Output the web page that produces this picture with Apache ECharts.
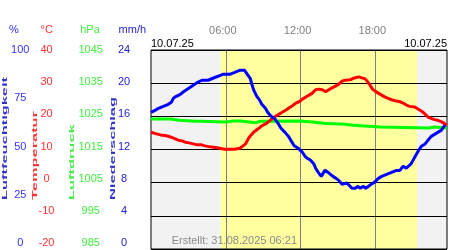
<!DOCTYPE html>
<html><head><meta charset="utf-8">
<script src="https://cdn.jsdelivr.net/npm/echarts@6/dist/echarts.min.js"></script>
<style>html,body{margin:0;padding:0;background:#fff}#c{width:450px;height:250px}</style>
</head><body><div id="c"></div>
<script>
// ---- data (hours of day 10.07.25) ----
const humHours = [0,0.36,0.60,0.99,1.39,1.63,1.79,2.03,2.35,2.58,2.82,3.06,3.30,3.54,3.78,4.09,4.57,4.97,5.37,5.76,6.32,6.72,7.11,7.51,7.73,7.96,8.09,8.25,8.49,8.73,8.89,9.18,9.36,9.63,9.90,10.24,10.43,10.75,11.03,11.22,11.49,11.75,11.88,12.15,12.36,12.54,12.81,13.08,13.21,13.42,13.66,13.95,14.21,14.59,14.85,15.06,15.33,15.72,15.86,16.12,16.39,16.60,16.79,17.05,17.23,17.45,17.66,17.93,18.24,18.51,18.90,19.30,19.70,19.97,20.23,20.49,20.84,21.03,21.29,21.48,21.69,21.96,22.22,22.48,22.75,23.01,23.28,23.59];
const humVals = [68.7,69.8,70.7,71.7,72.7,73.7,75.7,76.7,77.7,78.9,79.9,80.9,81.9,82.9,83.9,84.8,84.8,85.8,86.8,87.8,87.8,88.8,89.8,89.8,87.8,85.8,82.8,79.7,76.7,74.7,72.7,70.7,68.7,66.7,65.7,62.7,60.7,58.6,56.6,54.6,51.9,50.9,50.6,48.6,46.6,45.6,44.6,42.6,40.6,38.5,36.5,39.5,38.5,36.5,35.5,34.5,32.5,33.2,32.5,30.5,30.5,31.5,30.5,31.5,30.5,31.5,32.5,33.5,35.5,36.5,37.5,38.5,39.5,39.5,41.6,40.6,42.6,44.6,47.6,49.6,51.6,52.6,54.6,56.6,57.6,58.6,59.6,62.3];

const tempHours = [0,0.36,0.76,1.11,1.39,1.71,1.95,2.19,2.50,2.74,3.06,3.38,3.70,4.05,4.33,4.73,5.29,5.92,6.72,7.11,7.35,7.59,7.83,8.04,8.23,8.44,8.65,8.84,9.02,9.24,9.44,9.63,9.90,10.16,10.43,10.69,10.87,11.09,11.35,11.62,11.88,12.15,12.42,12.68,12.94,13.21,13.47,13.74,14.01,14.27,14.53,14.80,15.06,15.33,15.60,15.99,16.26,16.65,16.92,17.19,17.39,17.58,17.77,17.98,18.24,18.51,18.78,19.04,19.30,19.70,19.97,20.23,20.49,20.76,21.16,21.42,21.69,21.96,22.22,22.48,22.75,23.01,23.28,23.55,23.75];
const tempVals = [15.2,14.8,14.4,14.2,14.0,13.6,13.2,12.8,12.6,12.2,12.0,11.7,11.4,11.4,11.1,10.8,10.5,10.1,10.1,10.4,11.0,11.7,13.4,14.4,15.2,15.8,16.4,17.0,17.4,17.8,18.4,19.0,19.8,20.4,21.0,21.6,22.0,22.6,23.2,24.0,24.4,25.2,25.8,26.4,27.0,28.0,28.2,28.0,27.4,28.0,28.6,29.1,29.7,30.6,30.9,31.0,31.5,31.9,31.6,31.3,30.4,29.4,28.2,27.6,27.0,26.4,25.8,25.4,25.0,24.6,24.4,24.0,23.4,23.0,22.8,22.2,21.6,20.8,19.8,19.4,19.0,18.8,18.4,17.8,17.4];

const presHours = [0,1.55,2.27,3.54,3.70,3.93,6.00,6.64,6.72,7.19,8.39,8.78,11.96,13.16,13.79,15.54,16.26,17.13,18.40,22.30,22.69,23.75];
const presVals = [1024.2,1023.8,1023.5,1023.2,1023.5,1023.3,1023.6,1023.3,1023.6,1023.1,1023.5,1023.6,1023.2,1022.9,1022.6,1022.3,1022.1,1021.8,1021.5,1021.8,1021.5,1021.5];

const tickHours = [6, 12, 18];
const tickLabels = ['06:00', '12:00', '18:00'];
const dayStart = 5.58, dayEnd = 21.35, xEnd = 23.75;
const dateLabel = '10.07.25';
const createdLabel = 'Erstellt: 31.08.2025 06:21';

const FONT = '"Liberation Sans", Arial, sans-serif';
const zip = (a, b) => a.slice(0, Math.min(a.length, b.length)).map((v, i) => [v, b[i]]);

const chart = echarts.init(document.getElementById('c'), null, {renderer: 'canvas'});

function labelAxis(min, max, interval, offset, color, fmt) {
  return {
    gridIndex: 1, type: 'value', position: 'left', min, max, interval, offset,
    axisLine: {show: false}, axisTick: {show: false}, splitLine: {show: false},
    axisLabel: {color, fontSize: 11, fontFamily: FONT, margin: 0, align: 'center', formatter: fmt}
  };
}
function txt(text, x, y, color, align, size) {
  return {type: 'text', x, y, silent: true,
    style: {text, fill: color, font: (size || 11) + 'px ' + FONT, align: align || 'center', textAlign: align || 'center', verticalAlign: 'middle', textVerticalAlign: 'middle'}};
}
function vtxt(text, x, y, color) {
  return {type: 'text', x, y, rotation: Math.PI / 2, scaleX: 2.05, silent: true,
    style: {text, fill: color, font: 'bold 8px ' + FONT, align: 'left', textAlign: 'left', verticalAlign: 'middle', textVerticalAlign: 'middle'}};
}

chart.setOption({
  animation: false,
  backgroundColor: '#ffffff',
  grid: [
    {left: 151, top: 50, width: 298, height: 199, show: true, borderColor: '#000', borderWidth: 1, backgroundColor: 'transparent'},
    {left: 151, top: 50, width: 298, height: 193, show: false}
  ],
  xAxis: [
    {gridIndex: 0, type: 'value', min: 0, max: xEnd, interval: 6, position: 'top',
     axisLine: {show: false}, axisTick: {show: false}, splitLine: {show: false},
     axisLabel: {color: '#808080', fontSize: 11, fontFamily: FONT, margin: 14, padding: [0, 6, 0, 0],
       formatter: v => { const i = tickHours.indexOf(v); return i >= 0 ? tickLabels[i] : ''; }}},
    {gridIndex: 1, type: 'value', min: 0, max: 1, show: false}
  ],
  yAxis: [
    {gridIndex: 0, type: 'value', min: -20, max: 40, interval: 10,
     axisLine: {show: false}, axisTick: {show: false}, axisLabel: {show: false},
     splitLine: {show: true, lineStyle: {color: '#000', width: 1}}},
    {gridIndex: 0, type: 'value', min: 0, max: 100, show: false},
    {gridIndex: 0, type: 'value', min: 985, max: 1045, show: false},
    labelAxis(0, 100, 25, 130.7, '#3333ff'),
    labelAxis(-20, 40, 10, 104.5, '#ff3333'),
    labelAxis(0, 60, 10, 60.3, '#44ee44', v => String(v + 985)),
    labelAxis(0, 24, 4, 27, '#2222cc')
  ],
  series: [
    {type: 'line', xAxisIndex: 0, yAxisIndex: 0, data: [], z: -2, silent: true,
     markArea: {silent: true, z: -2, data: [
       [{xAxis: 0, itemStyle: {color: '#f2f2f2'}}, {xAxis: dayStart}],
       [{xAxis: dayStart, itemStyle: {color: '#ffffa0'}}, {xAxis: dayEnd}],
       [{xAxis: dayEnd, itemStyle: {color: '#f2f2f2'}}, {xAxis: xEnd}]
     ]},
     markLine: {silent: true, z: -1, symbol: 'none', label: {show: false},
       lineStyle: {color: '#808080', width: 1, type: 'solid'},
       data: tickHours.map(h => ({xAxis: h}))}},
    {name: 'Luftdruck', type: 'line', xAxisIndex: 0, yAxisIndex: 2, step: 'end', data: zip(presHours, presVals),
     showSymbol: false, lineStyle: {color: '#00ff00', width: 3}, itemStyle: {color: '#00ff00'}, z: 2},
    {name: 'Temperatur', type: 'line', xAxisIndex: 0, yAxisIndex: 0, data: zip(tempHours, tempVals),
     showSymbol: false, lineStyle: {color: '#ff0000', width: 3}, itemStyle: {color: '#ff0000'}, z: 3},
    {name: 'Luftfeuchtigkeit', type: 'line', xAxisIndex: 0, yAxisIndex: 1, data: zip(humHours, humVals),
     showSymbol: false, lineStyle: {color: '#0000ff', width: 3}, itemStyle: {color: '#0000ff'}, z: 4}
  ],
  graphic: [
    txt('%', 14, 30, '#3333ff'),
    txt('°C', 46.7, 30, '#ff3333'),
    txt('hPa', 90, 30, '#44ee44'),
    txt('mm/h', 132.3, 30, '#2222cc'),
    txt(dateLabel, 151, 44, '#000', 'left'),
    txt(dateLabel, 447, 44, '#000', 'right'),
    txt(createdLabel, 297, 241, '#8a8a8a', 'right'),
    vtxt('Luftfeuchtigkeit', 5, 200, '#3333cc'),
    vtxt('Temperatur', 35, 200, '#ff3333'),
    vtxt('Luftdruck', 72, 200, '#44ee44'),
    vtxt('Niederschlag', 112.5, 200, '#3333cc')
  ]
});
</script></body></html>
